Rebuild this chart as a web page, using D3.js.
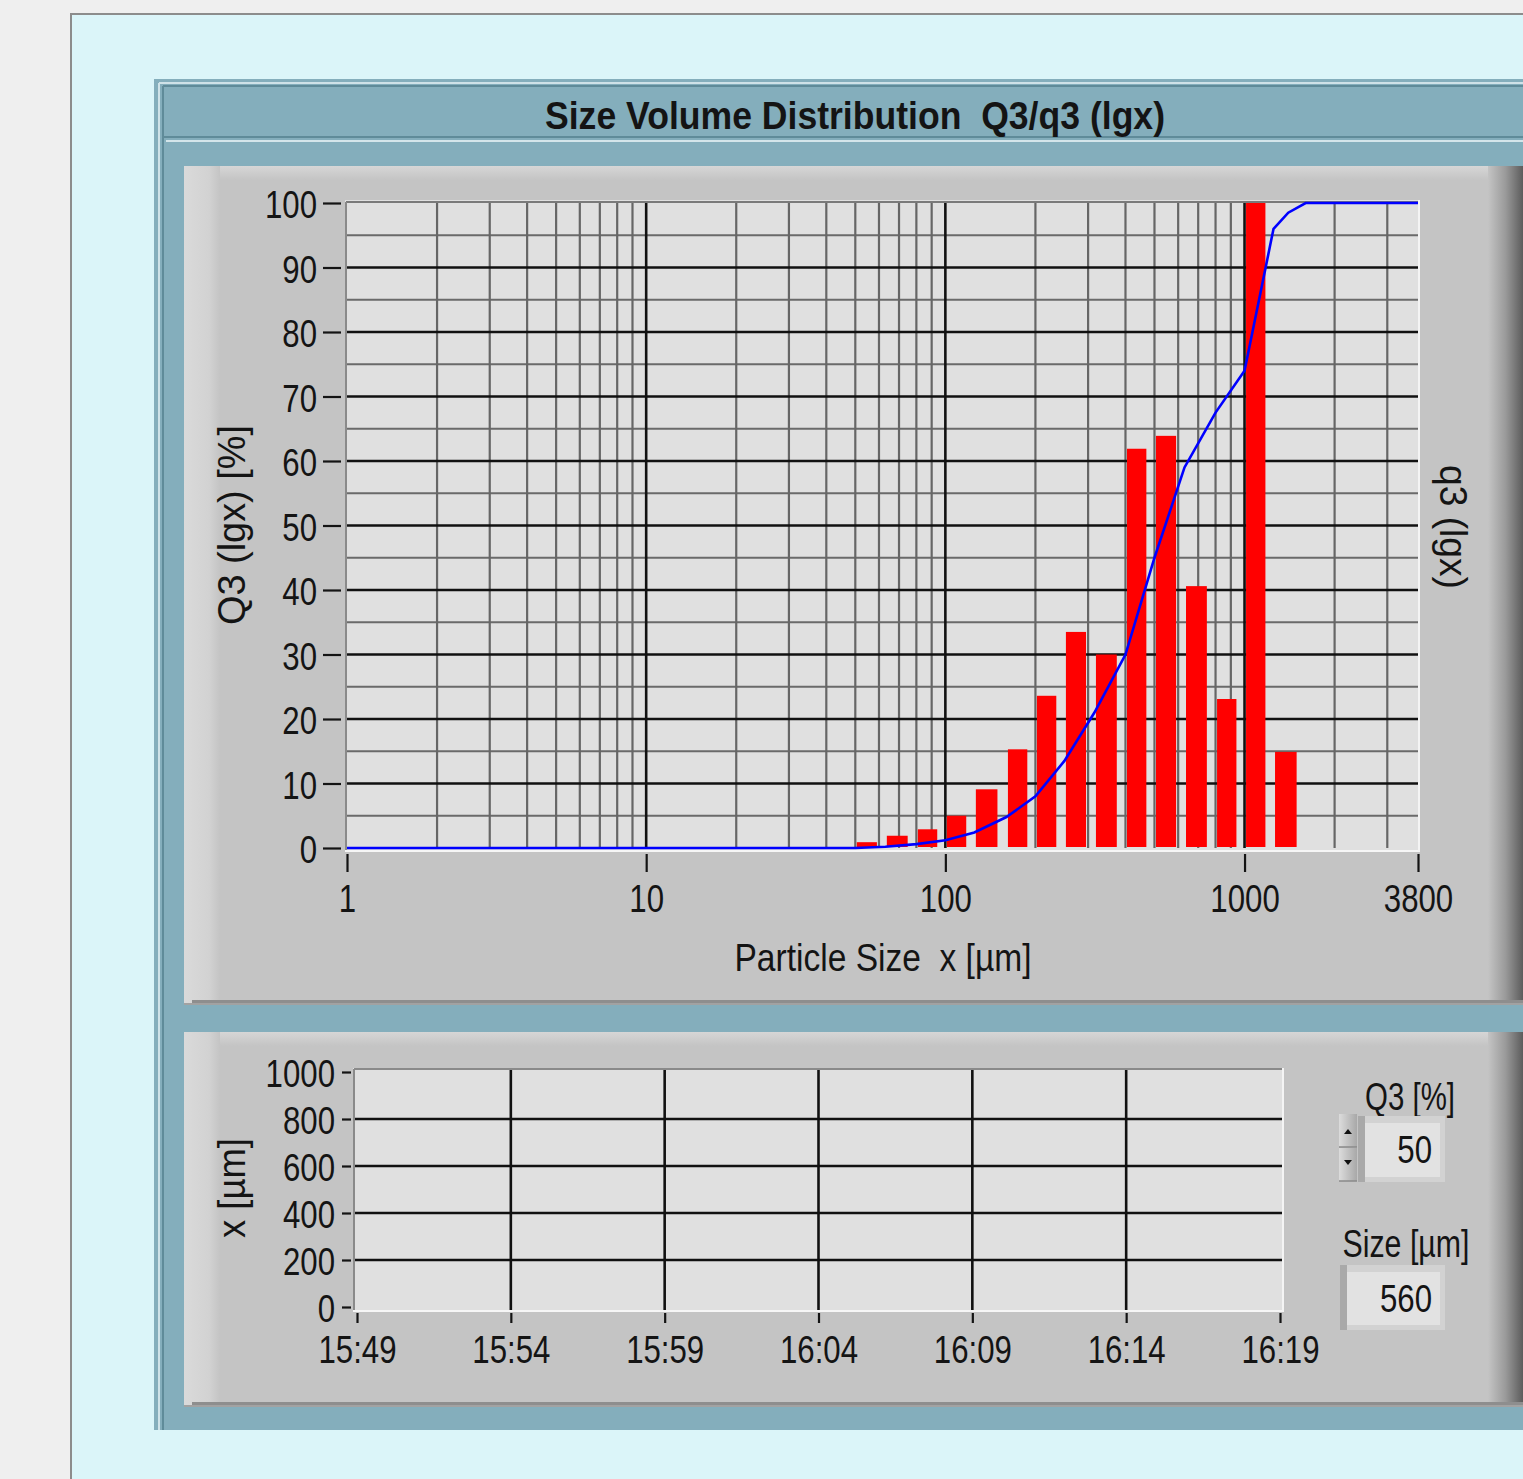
<!DOCTYPE html>
<html>
<head>
<meta charset="utf-8">
<script src="https://cdn.jsdelivr.net/npm/d3@7"></script>
<style>
  body { margin: 0; background: #efefef; overflow: hidden; }
  svg text { font-family: "Liberation Sans", Arial, sans-serif; fill: #141414; white-space: pre; }
</style>
</head>
<body>
<div id="chart"></div>
<script>
// size classes (lower bounds, last value closes the last class) and q3 bar heights
const classSizes = [50, 63, 80, 100, 125, 160, 200, 250, 315, 400, 500, 630, 800, 1000, 1250, 1600];
const q3Values = [0.9, 1.9, 2.9, 5.0, 9.1, 15.3, 23.6, 33.5, 30.0, 61.9, 63.9, 40.6, 23.1, 100, 14.9];

// cumulative Q3 curve
const curveSizes = [1, 50, 63, 80, 100, 125, 160, 200, 250, 315, 400, 500, 630, 800, 1000, 1250, 1400, 1600, 3800];
const curveQ3 = [0, 0, 0.2, 0.6, 1.2, 2.4, 4.8, 8, 13.5, 21, 30, 45, 59, 67.5, 74, 96, 98.5, 100, 100];

const sizeTicks = [1, 10, 100, 1000, 3800];
const pctTicks = [0, 10, 20, 30, 40, 50, 60, 70, 80, 90, 100];
const trendTicks = [0, 200, 400, 600, 800, 1000];
const timeTicks = ['15:49', '15:54', '15:59', '16:04', '16:09', '16:14', '16:19'];
const q3Setting = 50;
const sizeResult = 560;

const W = 1523, H = 1479;
const sx = 0.8; // narrow the digits like the bitmap font

const svg = d3.select('#chart').append('svg')
  .attr('width', W).attr('height', H);

const defs = svg.append('defs');
let grad = (id, x2, y2, stops) => {
  const g = defs.append('linearGradient').attr('id', id)
    .attr('x1', 0).attr('y1', 0).attr('x2', x2).attr('y2', y2);
  stops.forEach(s => g.append('stop').attr('offset', s[0]).attr('stop-color', s[1]));
};
grad('leftLight', 1, 0, [[0, '#dadada'], [0.7, '#d2d2d2'], [1, '#c4c4c4']]);
grad('topLight', 0, 1, [[0, '#d6d6d6'], [1, '#c4c4c4']]);
grad('rightDark', 1, 0, [[0, '#c4c4c4'], [0.5, '#9a9a9a'], [1, '#5c5c5c']]);
grad('btnGrad', 1, 0, [[0, '#dcdcdc'], [1, '#a8a8a8']]);

// page and outer boxes
svg.append('rect').attr('width', W).attr('height', H).attr('fill', '#efefef');
svg.append('rect').attr('x', 71).attr('y', 14).attr('width', W).attr('height', H)
  .attr('fill', '#dbf5f9').attr('stroke', '#8c8c8c').attr('stroke-width', 2);

svg.append('rect').attr('x', 154).attr('y', 79).attr('width', W).attr('height', 1351).attr('fill', '#84aebc');
svg.append('line').attr('x1', 159).attr('x2', 159).attr('y1', 83).attr('y2', 1430).attr('stroke', '#cfe2e8').attr('stroke-width', 2);
svg.append('line').attr('x1', 159).attr('x2', W).attr('y1', 83).attr('y2', 83).attr('stroke', '#cfe2e8').attr('stroke-width', 2);
svg.append('line').attr('x1', 163).attr('x2', 163).attr('y1', 86).attr('y2', 1430).attr('stroke', '#5f8b99').attr('stroke-width', 2);
svg.append('line').attr('x1', 163).attr('x2', W).attr('y1', 86).attr('y2', 86).attr('stroke', '#5f8b99').attr('stroke-width', 2);
svg.append('line').attr('x1', 164).attr('x2', W).attr('y1', 137).attr('y2', 137).attr('stroke', '#5f8b99').attr('stroke-width', 2);
svg.append('line').attr('x1', 166).attr('x2', W).attr('y1', 141).attr('y2', 141).attr('stroke', '#d4e5ea').attr('stroke-width', 2);

svg.append('text').attr('x', 855).attr('y', 129)
  .attr('text-anchor', 'middle').attr('font-size', 38).attr('font-weight', 'bold')
  .attr('textLength', 620).attr('lengthAdjust', 'spacingAndGlyphs')
  .text('Size Volume Distribution  Q3/q3 (lgx)');

let panel = (y0, h) => {
  const g = svg.append('g');
  g.append('rect').attr('x', 184).attr('y', y0).attr('width', W - 184).attr('height', h).attr('fill', '#c4c4c4');
  g.append('rect').attr('x', 184).attr('y', y0).attr('width', W - 184).attr('height', 14).attr('fill', 'url(#topLight)');
  g.append('rect').attr('x', 184).attr('y', y0).attr('width', 36).attr('height', h).attr('fill', 'url(#leftLight)');
  g.append('rect').attr('x', 1488).attr('y', y0).attr('width', 35).attr('height', h).attr('fill', 'url(#rightDark)');
  g.append('rect').attr('x', 192).attr('y', y0 + h - 5).attr('width', W - 192).attr('height', 5).attr('fill', '#8e8e8e');
  g.append('rect').attr('x', 184).attr('y', y0 + h - 2).attr('width', W - 184).attr('height', 2).attr('fill', '#a2a2a2');
  return g;
};
panel(166, 839);
panel(1032, 375);

let squeeze = g => {
  g.selectAll('.tick text').each(function() {
    const t = d3.select(this);
    t.attr('x', (+t.attr('x') || 0) / sx).attr('transform', `scale(${sx},1)`);
  });
};

// ---------- distribution chart ----------
const x = d3.scaleLog().domain([1, 3800]).range([347, 1418]);
const y = d3.scaleLinear().domain([0, 100]).range([848, 203]);

svg.append('rect').attr('x', x(1) - 2).attr('y', y(100) - 3)
  .attr('width', x(3800) - x(1) + 4).attr('height', y(0) - y(100) + 6).attr('fill', '#e0e0e0');

defs.append('clipPath').attr('id', 'plotClip').append('rect')
  .attr('x', x(1) - 2).attr('y', y(100) - 2).attr('width', x(3800) - x(1) + 4).attr('height', y(0) - y(100) + 4);

let minorX = [];
[1, 10, 100].forEach(d => { for (let k = 2; k <= 9; k++) minorX.push(k * d); });
minorX.push(2000, 3000);
const majorX = [10, 100, 1000];
const minorY = d3.range(5, 100, 10);
const majorY = d3.range(10, 100, 10);

const grid = svg.append('g');
grid.selectAll('.minor-y').data(minorY).enter().append('line')
  .attr('x1', x(1)).attr('x2', x(3800)).attr('y1', d => y(d)).attr('y2', d => y(d))
  .attr('stroke', '#6a6a6a').attr('stroke-width', 2.2);
grid.selectAll('.minor-x').data(minorX).enter().append('line')
  .attr('x1', d => x(d)).attr('x2', d => x(d)).attr('y1', y(100)).attr('y2', y(0))
  .attr('stroke', '#666').attr('stroke-width', 2.2);
grid.selectAll('.major-y').data(majorY).enter().append('line')
  .attr('x1', x(1)).attr('x2', x(3800)).attr('y1', d => y(d)).attr('y2', d => y(d))
  .attr('stroke', '#111').attr('stroke-width', 2.6);
grid.selectAll('.major-x').data(majorX).enter().append('line')
  .attr('x1', d => x(d)).attr('x2', d => x(d)).attr('y1', y(100)).attr('y2', y(0))
  .attr('stroke', '#111').attr('stroke-width', 2.6);
// frame
grid.append('line').attr('x1', x(1) - 1).attr('x2', x(3800)).attr('y1', y(100) - 1).attr('y2', y(100) - 1).attr('stroke', '#7a7a7a').attr('stroke-width', 2);
grid.append('line').attr('x1', x(1) - 1).attr('x2', x(1) - 1).attr('y1', y(100) - 1).attr('y2', y(0) + 2).attr('stroke', '#8a8a8a').attr('stroke-width', 2);
grid.append('line').attr('x1', x(1) - 2).attr('x2', x(3800) + 2).attr('y1', y(0) + 3).attr('y2', y(0) + 3).attr('stroke', '#f6f6f6').attr('stroke-width', 2);
grid.append('line').attr('x1', x(3800) + 1).attr('x2', x(3800) + 1).attr('y1', y(100) - 3).attr('y2', y(0) + 3).attr('stroke', '#f4f4f4').attr('stroke-width', 2);

const bars = classSizes.slice(0, -1).map((lo, i) => ({ lo: lo, hi: classSizes[i + 1], v: q3Values[i] }));
svg.append('g').attr('clip-path', 'url(#plotClip)')
  .selectAll('rect').data(bars).enter().append('rect')
  .attr('x', d => x(d.lo) + 1.5)
  .attr('width', d => 0.72 * (x(d.hi) - x(d.lo)) - 1.5)
  .attr('y', d => y(d.v))
  .attr('height', d => y(0) - 1 - y(d.v))
  .attr('fill', '#ff0000');

const curve = curveSizes.map((s, i) => [s, curveQ3[i]]);
svg.append('path').datum(curve).attr('clip-path', 'url(#plotClip)')
  .attr('d', d3.line().x(d => x(d[0])).y(d => y(d[1])))
  .attr('fill', 'none').attr('stroke', '#0000ff').attr('stroke-width', 2.6);

const yAxis = svg.append('g').attr('transform', 'translate(341,0)')
  .call(d3.axisLeft(y).tickValues(pctTicks).tickSize(18).tickPadding(6));
const xAxis = svg.append('g').attr('transform', 'translate(0,854)')
  .call(d3.axisBottom(x).tickValues(sizeTicks).tickFormat(d3.format('d')).tickSize(18).tickPadding(12));
[yAxis, xAxis].forEach(a => {
  a.attr('font-size', 39).attr('color', '#141414');
  a.select('.domain').remove();
  a.selectAll('.tick line').attr('stroke-width', 2.2);
  squeeze(a);
});
yAxis.selectAll('.tick text').attr('dy', '0.38em');

svg.append('text').attr('transform', 'translate(245,525) rotate(-90)')
  .attr('text-anchor', 'middle').attr('font-size', 38)
  .attr('textLength', 200).attr('lengthAdjust', 'spacingAndGlyphs')
  .text('Q3 (lgx) [%]');
svg.append('text').attr('transform', 'translate(1440,527) rotate(90)')
  .attr('text-anchor', 'middle').attr('font-size', 38)
  .attr('textLength', 124).attr('lengthAdjust', 'spacingAndGlyphs')
  .text('q3 (lgx)');
svg.append('text').attr('x', 883).attr('y', 971)
  .attr('text-anchor', 'middle').attr('font-size', 38).attr('fill', '#1c1c2c')
  .attr('textLength', 297).attr('lengthAdjust', 'spacingAndGlyphs')
  .text('Particle Size  x [µm]');

// ---------- trend chart ----------
const parseT = d3.timeParse('%H:%M');
const timeDates = timeTicks.map(parseT);
const t = d3.scaleTime().domain(d3.extent(timeDates)).range([357, 1280]);
const y2 = d3.scaleLinear().domain([0, 1000]).range([1307, 1072]);

svg.append('rect').attr('x', 353).attr('y', 1068).attr('width', 930).attr('height', 243).attr('fill', '#e0e0e0');
const grid2 = svg.append('g');
grid2.selectAll('.hy').data(trendTicks.slice(1, -1)).enter().append('line')
  .attr('x1', 355).attr('x2', 1283).attr('y1', d => y2(d)).attr('y2', d => y2(d))
  .attr('stroke', '#111').attr('stroke-width', 2.6);
grid2.selectAll('.vx').data(timeDates.slice(1, -1)).enter().append('line')
  .attr('x1', d => t(d)).attr('x2', d => t(d)).attr('y1', 1069).attr('y2', 1310)
  .attr('stroke', '#111').attr('stroke-width', 2.6);
grid2.append('line').attr('x1', 354).attr('x2', 1283).attr('y1', 1069).attr('y2', 1069).attr('stroke', '#8a8a8a').attr('stroke-width', 2);
grid2.append('line').attr('x1', 354).attr('x2', 354).attr('y1', 1069).attr('y2', 1311).attr('stroke', '#8a8a8a').attr('stroke-width', 2);
grid2.append('line').attr('x1', 353).attr('x2', 1284).attr('y1', 1311).attr('y2', 1311).attr('stroke', '#f6f6f6').attr('stroke-width', 2);
grid2.append('line').attr('x1', 1283).attr('x2', 1283).attr('y1', 1068).attr('y2', 1311).attr('stroke', '#f4f4f4').attr('stroke-width', 2);

const y2Axis = svg.append('g').attr('transform', 'translate(351,0)')
  .call(d3.axisLeft(y2).tickValues(trendTicks).tickFormat(d3.format('d')).tickSize(9).tickPadding(7));
const tAxis = svg.append('g').attr('transform', 'translate(0,1313)')
  .call(d3.axisBottom(t).tickValues(timeDates).tickFormat(d3.timeFormat('%H:%M')).tickSize(10).tickPadding(12));
[y2Axis, tAxis].forEach(a => {
  a.attr('font-size', 39).attr('color', '#141414');
  a.select('.domain').remove();
  a.selectAll('.tick line').attr('stroke-width', 2.2);
  squeeze(a);
});
y2Axis.selectAll('.tick text').attr('dy', '0.36em');

svg.append('text').attr('transform', 'translate(245,1188) rotate(-90)')
  .attr('text-anchor', 'middle').attr('font-size', 38)
  .attr('textLength', 100).attr('lengthAdjust', 'spacingAndGlyphs')
  .text('x [µm]');

// ---------- controls ----------
let numBox = (x0, y0, w, h, val) => {
  const g = svg.append('g');
  g.append('rect').attr('x', x0).attr('y', y0).attr('width', w).attr('height', h).attr('fill', '#d2d2d2');
  g.append('rect').attr('x', x0).attr('y', y0).attr('width', 7).attr('height', h).attr('fill', '#a9a9a9');
  g.append('rect').attr('x', x0 + 7).attr('y', y0 + 7).attr('width', w - 12).attr('height', h - 12).attr('fill', '#e2e2e2');
  g.append('text').attr('transform', `translate(${x0 + w - 13},${y0 + h / 2 + 14}) scale(${sx},1)`)
    .attr('text-anchor', 'end').attr('font-size', 39).text(val);
};
svg.append('text').attr('x', 1410).attr('y', 1110).attr('text-anchor', 'middle')
  .attr('font-size', 38).attr('textLength', 90).attr('lengthAdjust', 'spacingAndGlyphs').text('Q3 [%]');
numBox(1358, 1116, 87, 66, q3Setting);
[[1114, 'M1344,1134 l4,-5 l4,5 z'], [1148, 'M1344,1160 l4,5 l4,-5 z']].forEach(b => {
  svg.append('rect').attr('x', 1339).attr('y', b[0]).attr('width', 18).attr('height', 33).attr('fill', 'url(#btnGrad)');
  svg.append('line').attr('x1', 1339).attr('x2', 1357).attr('y1', b[0] + 33).attr('y2', b[0] + 33).attr('stroke', '#8a8a8a').attr('stroke-width', 1.5);
  svg.append('path').attr('d', b[1]).attr('fill', '#111');
});
svg.append('text').attr('x', 1406).attr('y', 1257).attr('text-anchor', 'middle')
  .attr('font-size', 38).attr('textLength', 127).attr('lengthAdjust', 'spacingAndGlyphs').text('Size [µm]');
numBox(1340, 1265, 105, 65, sizeResult);
</script>
</body>
</html>
